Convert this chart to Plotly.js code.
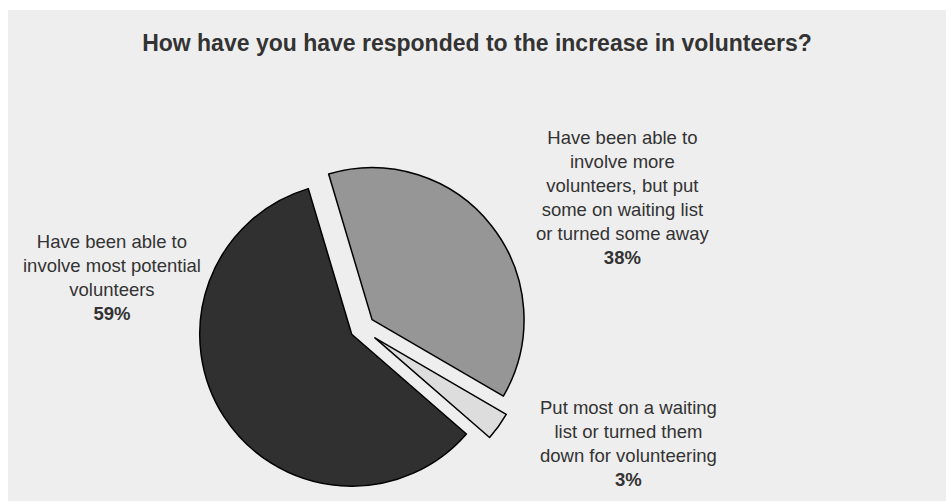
<!DOCTYPE html>
<html>
<head>
<meta charset="utf-8">
<script src="https://cdn.plot.ly/plotly-3.0.1.min.js"></script>
<style>
  html, body { margin: 0; padding: 0; background: #ffffff; width: 946px; height: 501px; overflow: hidden; }
  #chart { position: absolute; left: 8px; top: 10px; width: 938px; height: 491px; }
</style>
</head>
<body>
<div id="chart"></div>
<script>
const chartTitle = "How have you have responded to the increase in volunteers?";
const categories = [
  "Have been able to<br>involve more<br>volunteers, but put<br>some on waiting list<br>or turned some away",
  "Put most on a waiting<br>list or turned them<br>down for volunteering",
  "Have been able to<br>involve most potential<br>volunteers"
];
const values = [38, 3, 59];
const sliceColors = ["#969696", "#dddddd", "#303030"];
const pulls = [0.09, 0.11, 0.075];
const labelPos = [
  {x: 0.6557, y: 0.6191},
  {x: 0.662, y: 0.1181},
  {x: 0.1104, y: 0.4542}
];

const trace = {
  type: "pie",
  values: values,
  labels: categories,
  sort: false,
  direction: "clockwise",
  rotation: -16.6,
  pull: pulls,
  marker: { colors: sliceColors, line: { color: "#000000", width: 1.5 } },
  textinfo: "none",
  hoverinfo: "label+percent",
  showlegend: false,
  domain: { x: [0.1968, 0.5565], y: [0.00855, 0.6957] }
};

const annotations = categories.map((c, i) => ({
  text: c + "<br><b>" + values[i] + "%</b>",
  x: labelPos[i].x, y: labelPos[i].y,
  xref: "paper", yref: "paper",
  xanchor: "center", yanchor: "middle",
  showarrow: false,
  align: "center",
  font: { family: "Liberation Sans, Arial, sans-serif", size: 18.5, color: "#333333" }
}));

const layout = {
  width: 938, height: 491,
  paper_bgcolor: "#eeeeee",
  plot_bgcolor: "#eeeeee",
  margin: { l: 0, r: 0, t: 0, b: 0, pad: 0 },
  title: {
    text: "<b>" + chartTitle + "</b>",
    x: 0.5, xref: "container", xanchor: "center",
    y: 0.9328, yref: "container", yanchor: "middle",
    font: { family: "Liberation Sans, Arial, sans-serif", size: 23, color: "#333333" }
  },
  annotations: annotations
};

Plotly.newPlot("chart", [trace], layout, { displayModeBar: false, staticPlot: true });
</script>
</body>
</html>
